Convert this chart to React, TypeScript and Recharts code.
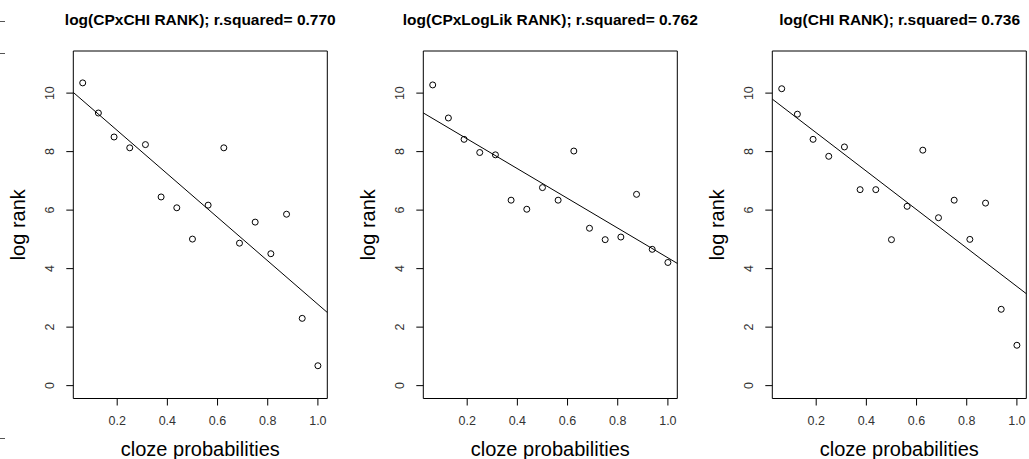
import {ReferenceArea, ReferenceLine, Scatter, ScatterChart, XAxis, YAxis} from 'recharts';

// cloze probabilities (x), one per item
const cloze = [0.0625, 0.125, 0.1875, 0.25, 0.3125, 0.375, 0.4375, 0.5, 0.5625, 0.625, 0.6875, 0.75, 0.8125, 0.875, 0.9375, 1.0];

const cpxChi = [10.35, 9.32, 8.5, 8.13, 8.24, 6.45, 6.08, 5.01, 6.17, 8.13, 4.87, 5.59, 4.51, 5.86, 2.3, 0.68];
const cpxLogLik = [10.28, 9.15, 8.42, 7.97, 7.89, 6.34, 6.03, 6.77, 6.34, 8.02, 5.38, 4.99, 5.08, 6.54, 4.66, 4.21];
const chi = [10.15, 9.28, 8.42, 7.84, 8.16, 6.7, 6.7, 4.99, 6.13, 8.05, 5.74, 6.34, 5.0, 6.24, 2.61, 1.38];

const titles = [
  'log(CPxCHI RANK); r.squared= 0.770',
  'log(CPxLogLik RANK); r.squared= 0.762',
  'log(CHI RANK); r.squared= 0.736',
];
// fitted line: intercept, slope
const intercepts = [10.21, 9.45, 9.96];
const slopes = [-7.43, -5.08, -6.57];

const xTicks = [0.2, 0.4, 0.6, 0.8, 1.0];
const yTicks = [0, 2, 4, 6, 8, 10];
const xDomain: [number, number] = [0.025, 1.0375];
const yDomain: [number, number] = [-0.44, 11.44];

const panelLeft = [0, 350, 699.4];
const FONT = '"Liberation Sans", Arial, Helvetica, sans-serif';

function YTick(props: any) {
  const {x, y, payload} = props;
  return (
    <text x={x} y={y} transform={`rotate(-90 ${x} ${y})`} textAnchor="middle" fontSize={12.5} fill="#333" fontFamily={FONT}>
      {payload.value}
    </text>
  );
}

function Ring(props: any) {
  const {cx, cy} = props;
  return <circle cx={cx} cy={cy} r={3} fill="none" stroke="#000" strokeWidth={1} />;
}

function Panel({ index }: { index: number }) {
  const values = [cpxChi, cpxLogLik, chi][index];
  const data = cloze.map((x, i) => ({ x, y: values[i] }));
  const a = intercepts[index];
  const b = slopes[index];
  return (
    <div style={{ position: 'absolute', left: panelLeft[index], top: 0, width: 350, height: 459 }}>
      <div
        style={{
          position: 'absolute', left: 73.3 - 40, width: 334, top: 11, textAlign: 'center',
          fontFamily: FONT, fontWeight: 'bold', fontSize: 15.5, color: '#000', whiteSpace: 'nowrap',
        }}
      >
        {titles[index]}
      </div>
      <ScatterChart width={350} height={459} margin={{ top: 51, right: 22.7, bottom: 0, left: 0 }} style={{ fontFamily: FONT }}>
        <XAxis
          type="number"
          dataKey="x"
          domain={xDomain}
          allowDataOverflow
          ticks={xTicks}
          tickFormatter={(v: number) => v.toFixed(1)}
          axisLine={false}
          tickLine={{ stroke: '#000' }}
          tickSize={7}
          tickMargin={11}
          tick={{ fontSize: 12.5, fill: '#333' }}
          height={60.5}
          label={{ value: 'cloze probabilities', position: 'insideBottom', offset: 3, fontSize: 20, fill: '#000' }}
        />
        <YAxis
          type="number"
          dataKey="y"
          domain={yDomain}
          allowDataOverflow
          ticks={yTicks}
          axisLine={false}
          tickLine={{ stroke: '#000' }}
          tickSize={7}
          tickMargin={12}
          tick={<YTick />}
          width={73.3}
          label={{ value: 'log rank', angle: -90, position: 'insideLeft', offset: 18, fontSize: 20, fill: '#000', style: { textAnchor: 'middle' } }}
        />
        <ReferenceArea x1={xDomain[0]} x2={xDomain[1]} y1={yDomain[0]} y2={yDomain[1]} fill="none" stroke="#000" strokeWidth={1} fillOpacity={0} />
        <ReferenceLine
          segment={[
            { x: xDomain[0], y: a + b * xDomain[0] },
            { x: xDomain[1], y: a + b * xDomain[1] },
          ]}
          stroke="#000"
          strokeWidth={1}
        />
        <Scatter data={data} shape={<Ring />} isAnimationActive={false} />
      </ScatterChart>
    </div>
  );
}

export default function App() {
  return (
    <div style={{ position: 'absolute', left: 0, top: 0, width: 1029, height: 459, background: '#fff', overflow: 'hidden' }}>
      {[21, 53, 437.5].map(t => (
        <div key={t} style={{ position: 'absolute', left: 0, top: t, width: 5, height: 1, background: '#555' }} />
      ))}
      <Panel index={0} />
      <Panel index={1} />
      <Panel index={2} />
    </div>
  );
}
